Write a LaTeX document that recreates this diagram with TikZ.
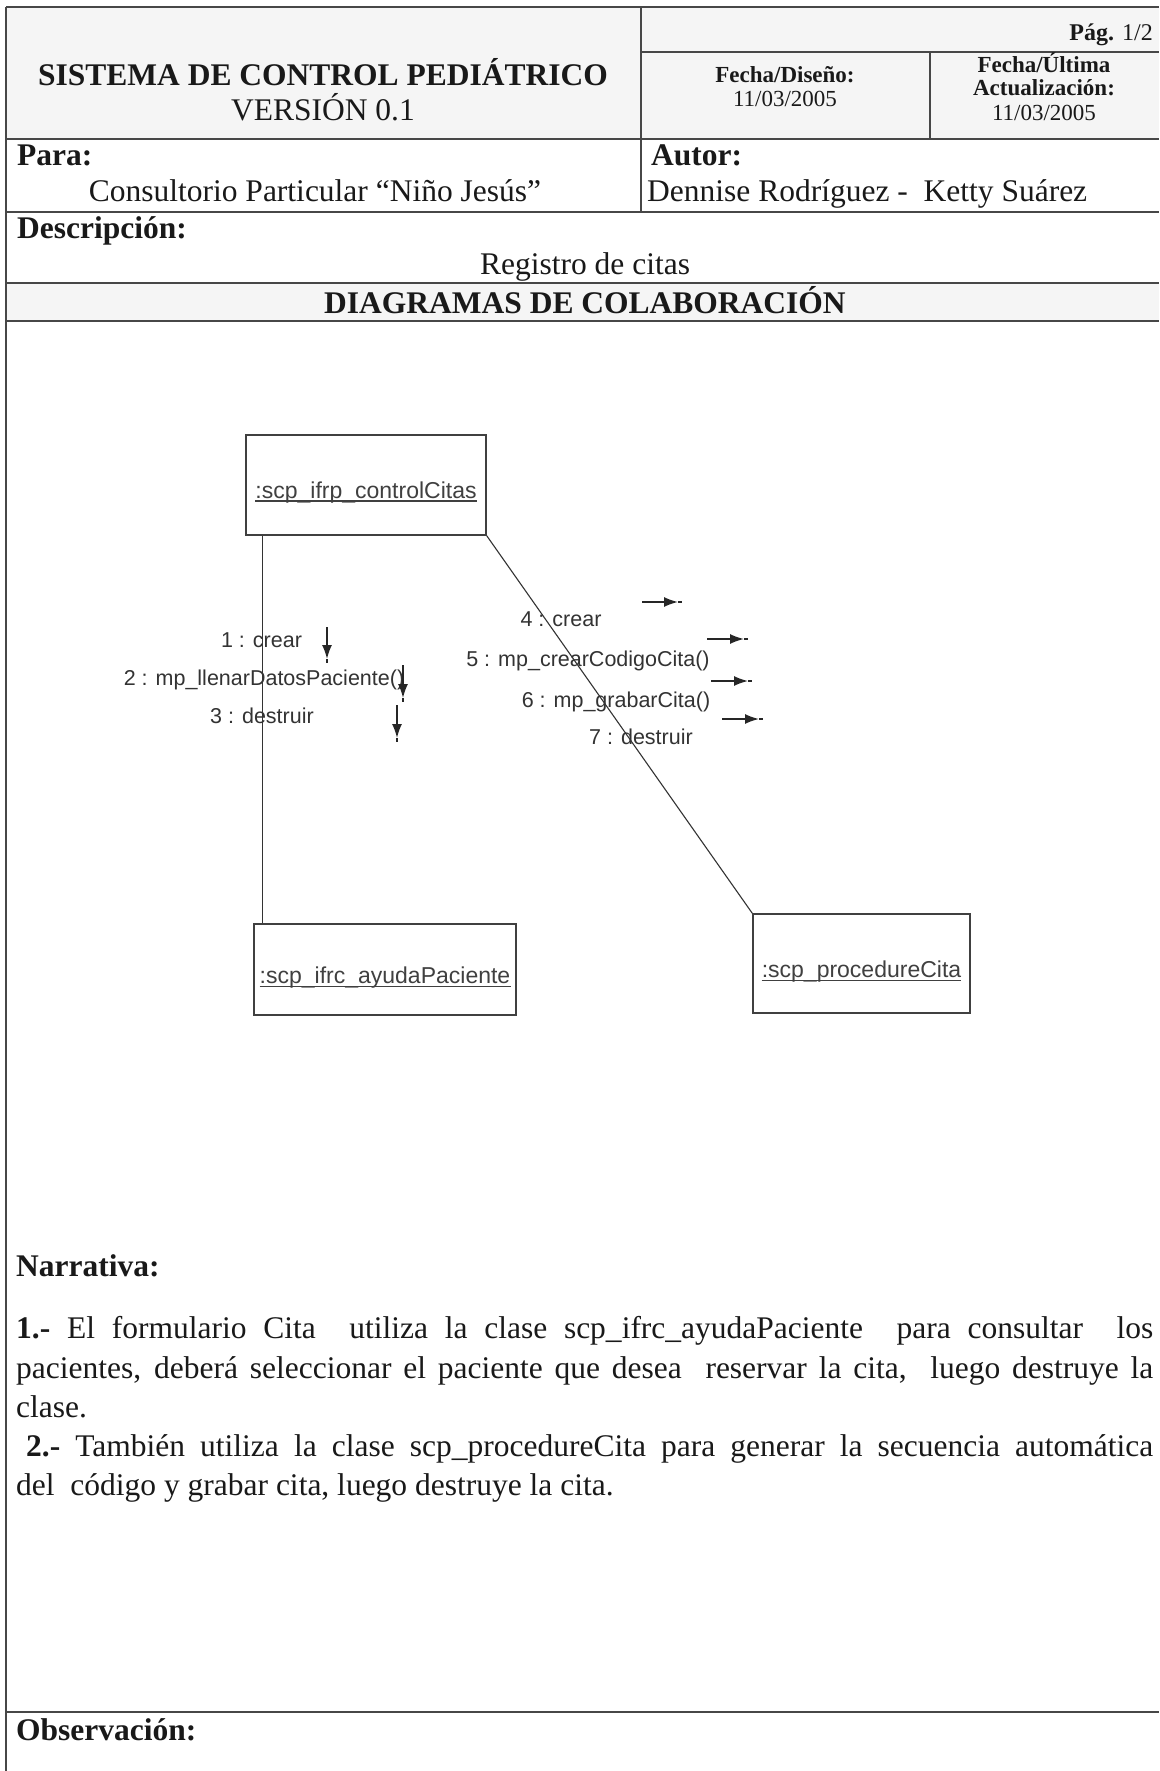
\documentclass[tikz,border=0pt]{standalone}
\usepackage{fontspec}
\setmainfont{Liberation Serif}
\newfontfamily\arialf{Liberation Sans}
\usetikzlibrary{arrows.meta,calc}
\newcommand\fsz[2]{\fontsize{#1}{#2}\selectfont}
\begin{document}
\begin{tikzpicture}[x=1pt,y=-1pt,
  rule/.style={draw=black!72,line width=1.6pt},
  txt/.style={inner sep=0pt,text=black!90},
  big/.style={txt,font=\fsz{31.5}{38}},
  bigb/.style={txt,font=\bfseries\fsz{31.5}{38}},
  small/.style={txt,font=\fsz{23}{27}},
  smallb/.style={txt,font=\bfseries\fsz{23}{27}},
  objbox/.style={draw=black!75,line width=1.4pt,inner sep=0pt},
  objlabel/.style={inner sep=0pt,font=\arialf\fsz{23}{27},text=black!75},
  uline/.style={draw=black!75,line width=1.2pt},
  link/.style={draw=black!80,line width=1.1pt},
  msglabel/.style={inner sep=0pt,font=\arialf\fsz{21.5}{25},text=black!80},
  msg/.style={draw=black!85,line width=1.6pt},
  msghead/.style={msg,-{Latex[length=14pt,width=10pt]}},
]
\useasboundingbox (0,0) rectangle (1159,1771);
\fill[white] (0,0) rectangle (1159,1771);
\fill[black!4] (6,7) rectangle (1159,139);
\fill[black!4] (6,283) rectangle (1159,321);

% table rules
\draw[rule] (6,7) -- (1159,7);
\draw[rule] (6,7) -- (6,1771);
\draw[rule] (641,7) -- (641,212);
\draw[rule] (641,52) -- (1159,52);
\draw[rule] (930,52) -- (930,139);
\draw[rule] (6,139) -- (1159,139);
\draw[rule] (6,212) -- (1159,212);
\draw[rule] (6,283) -- (1159,283);
\draw[rule] (6,321) -- (1159,321);
\draw[rule] (6,1712) -- (1159,1712);

% header texts
\node[bigb,anchor=base] (title) at (323,86) {SISTEMA DE CONTROL PEDIÁTRICO};
\node[big,anchor=base] (version) at (323,121) {VERSIÓN 0.1};
\node[txt,font=\fsz{24}{28},anchor=base east] (pag) at (1153,41) {\textbf{Pág.} 1/2};
\node[smallb,anchor=base] (fdis) at (785,83) {Fecha/Diseño:};
\node[small,anchor=base] (fdisv) at (785,107) {11/03/2005};
\node[smallb,anchor=base] (fult) at (1044,73) {Fecha/Última};
\node[smallb,anchor=base] (fact) at (1044,96) {Actualización:};
\node[small,anchor=base] (fultv) at (1044,121) {11/03/2005};
\node[bigb,anchor=base west] (para) at (17,166) {Para:};
\node[big,anchor=base] (parav) at (315,202) {Consultorio Particular “Niño Jesús”};
\node[bigb,anchor=base west] (autor) at (651,166) {Autor:};
\node[big,anchor=base west] (autorv) at (647,202) {Dennise Rodríguez -\ \ Ketty Suárez};
\node[bigb,anchor=base west] (desc) at (17,239) {Descripción:};
\node[big,anchor=base] (descv) at (585,274) {Registro de citas};
\node[bigb,anchor=base] (diag) at (585,313) {DIAGRAMAS DE COLABORACIÓN};

% objects
\node[objbox,minimum width=240pt,minimum height=100pt] (b1) at (366,485) {};
\node[objbox,minimum width=262pt,minimum height=91pt] (b2) at (385,969.5) {};
\node[objbox,minimum width=217pt,minimum height=99pt] (b3) at (861.5,963.5) {};
\node[objlabel,anchor=base] (l1) at ($(b1.center)+(0,13)$) {:scp\_ifrp\_controlCitas};
\node[objlabel,anchor=base] (l2) at ($(b2.center)+(0,14)$) {:scp\_ifrc\_ayudaPaciente};
\node[objlabel,anchor=base] (l3) at ($(b3.center)+(0,14)$) {:scp\_procedureCita};
\draw[uline] ($(l1.base west)+(0,3)$) -- ($(l1.base east)+(0,3)$);
\draw[uline] ($(l2.base west)+(0,3)$) -- ($(l2.base east)+(0,3)$);
\draw[uline] ($(l3.base west)+(0,3)$) -- ($(l3.base east)+(0,3)$);

% links
\draw[link] ([xshift=17pt]b1.south west) -- ([xshift=17pt]b1.south west |- b2.north);
\draw[link] (b1.south east) -- (b3.north west);

% messages on link 1-2
\node[msglabel,anchor=base] (m1) at (261.5,647.5) {1 : crear};
\node[msglabel,anchor=base] (m2) at (264,685.5) {2 : mp\_llenarDatosPaciente()};
\node[msglabel,anchor=base] (m3) at (262,723.5) {3 : destruir};
\coordinate (a1s) at (327,627); \coordinate (a1t) at (327,659); \coordinate (a1e) at (327,663);
\coordinate (a2s) at (403,665); \coordinate (a2t) at (403,698); \coordinate (a2e) at (403,702);
\coordinate (a3s) at (397,705); \coordinate (a3t) at (397,738); \coordinate (a3e) at (397,742);
\draw[msghead] (a1s) -- (a1t); \draw[msg] (a1t) -- (a1e);
\draw[msghead] (a2s) -- (a2t); \draw[msg] (a2t) -- (a2e);
\draw[msghead] (a3s) -- (a3t); \draw[msg] (a3t) -- (a3e);

% messages on link 1-3
\node[msglabel,anchor=base] (m4) at (561,626.5) {4 : crear};
\node[msglabel,anchor=base] (m5) at (588,666.5) {5 : mp\_crearCodigoCita()};
\node[msglabel,anchor=base] (m6) at (616,707.5) {6 : mp\_grabarCita()};
\node[msglabel,anchor=base] (m7) at (641,744.5) {7 : destruir};
\coordinate (a4s) at (642,602); \coordinate (a4t) at (678,602); \coordinate (a4e) at (682,602);
\coordinate (a5s) at (707,639); \coordinate (a5t) at (744,639); \coordinate (a5e) at (748,639);
\coordinate (a6s) at (711,681); \coordinate (a6t) at (748,681); \coordinate (a6e) at (752,681);
\coordinate (a7s) at (722,719); \coordinate (a7t) at (759,719); \coordinate (a7e) at (763,719);
\draw[msghead] (a4s) -- (a4t); \draw[msg] (a4t) -- (a4e);
\draw[msghead] (a5s) -- (a5t); \draw[msg] (a5t) -- (a5e);
\draw[msghead] (a6s) -- (a6t); \draw[msg] (a6t) -- (a6e);
\draw[msghead] (a7s) -- (a7t); \draw[msg] (a7t) -- (a7e);

% narrative
\node[bigb,anchor=base west] (narr) at (16,1276) {Narrativa:};
\node[big,anchor=base west] (n1) at (16,1338) {\makebox[1137pt][s]{\textbf{1.-} El formulario Cita\ \ utiliza la clase scp\_ifrc\_ayudaPaciente\ \ para consultar\ \ los}};
\node[big,anchor=base west] (n2) at (16,1378) {\makebox[1137pt][s]{pacientes, deberá seleccionar el paciente que desea\ \ reservar la cita,\ \ luego destruye la}};
\node[big,anchor=base west] (n3) at (16,1417) {clase.};
\node[big,anchor=base west] (n4) at (26,1456) {\makebox[1127pt][s]{\textbf{2.-} También utiliza la clase scp\_procedureCita para generar la secuencia automática}};
\node[big,anchor=base west] (n5) at (16,1495) {del\ \ código y grabar cita, luego destruye la cita.};
\node[bigb,anchor=base west] (obs) at (16,1740) {Observación:};
\end{tikzpicture}
\end{document}
